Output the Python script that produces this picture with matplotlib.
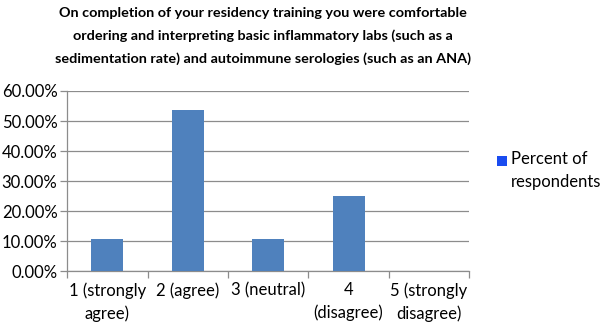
import matplotlib.pyplot as plt
from matplotlib.patches import Rectangle
from matplotlib.ticker import FuncFormatter, MultipleLocator

plt.rcParams['font.family'] = ['Lato', 'DejaVu Sans']

# survey answers (share of respondents)
categories = ['1 (strongly\nagree)', '2 (agree)', '3 (neutral)', '4\n(disagree)', '5 (strongly\ndisagree)']
percent = [10.71, 53.57, 10.71, 25.0, 0.0]
series_name = 'Percent of\nrespondents'
title = ('On completion of your residency training you were comfortable\n'
         'ordering and interpreting basic inflammatory labs (such as a\n'
         'sedimentation rate) and autoimmune serologies (such as an ANA)')

bar_color = '#4F81BD'
grid_color = '#8C8C8C'

fig = plt.figure(figsize=(6, 3.25), dpi=100)
ax = fig.add_axes([0.112, 0.165, 0.67, 0.555])

x = range(len(categories))
ax.bar(x, percent, width=0.4, color=bar_color, zorder=3)

ax.set_xlim(-0.5, len(categories) - 0.5)
ax.set_ylim(0, 60)
ax.yaxis.set_major_locator(MultipleLocator(10))
ax.yaxis.set_major_formatter(FuncFormatter(lambda v, p: f'{v:.2f}%'))
ax.grid(axis='y', color=grid_color, linewidth=0.9, zorder=0)

# category labels centred, ticks between categories
ax.set_xticks(list(x))
ax.set_xticklabels(categories, fontsize=12, linespacing=1.45, multialignment='center')
ax.tick_params(axis='x', length=0, pad=8)
ax.set_xticks([i + 0.5 for i in range(-1, len(categories))], minor=True)
ax.tick_params(axis='x', which='minor', length=5, color=grid_color, width=0.9)
ax.tick_params(axis='y', labelsize=12, length=5, color=grid_color, width=0.9, pad=2)

for s in ['top', 'right']:
    ax.spines[s].set_visible(False)
for s in ['left', 'bottom']:
    ax.spines[s].set_color(grid_color)
    ax.spines[s].set_linewidth(0.9)

fig.text(0.438, 0.978, title, ha='center', va='top', fontsize=10.4,
         fontweight='bold', linespacing=1.95)

# legend: square beside the first line of the series name
fig.patches.append(Rectangle((0.828, 0.49), 0.0165, 0.03, transform=fig.transFigure,
                             facecolor='#1A4CF0', edgecolor='none'))
fig.text(0.851, 0.535, series_name, ha='left', va='top', fontsize=12, linespacing=1.5)

fig.savefig('out.png', dpi=100)
